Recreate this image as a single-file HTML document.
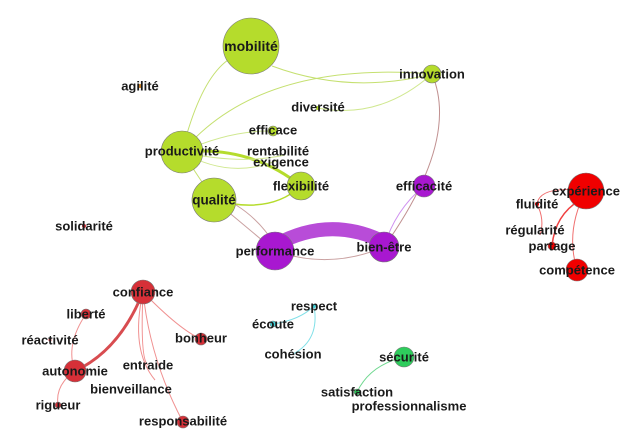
<!DOCTYPE html>
<html><head><meta charset="utf-8"><style>
body{margin:0;background:#fff}
svg text{font-family:"Liberation Sans",sans-serif;font-weight:bold;font-size:13px;fill:#1a1a1a;text-anchor:middle;dominant-baseline:central}
</style></head><body>
<svg width="640" height="443" viewBox="0 0 640 443" xmlns="http://www.w3.org/2000/svg">
<g fill="none">
<path d="M182,152 Q200,80 228,60" stroke="#c5e070" stroke-width="1"/>
<path d="M272,66 Q350,95 432,74" stroke="#c5e070" stroke-width="1"/>
<path d="M182,152 Q260,60 432,74" stroke="#c5e070" stroke-width="1"/>
<path d="M318,108 Q380,120 432,74" stroke="#d0e890" stroke-width="1"/>
<path d="M182,152 Q230,130 273,131" stroke="#d0e890" stroke-width="1"/>
<path d="M182,152 Q250,145 301,186" stroke="#b5dc2c" stroke-width="3"/>
<path d="M182,152 Q230,180 278,160" stroke="#d0e890" stroke-width="1"/>
<path d="M182,152 Q240,165 285,155" stroke="#d0e890" stroke-width="1"/>
<path d="M182,152 L214,200" stroke="#c5e070" stroke-width="1"/>
<path d="M214,200 Q270,215 301,186" stroke="#b5dc2c" stroke-width="1.5"/>
<path d="M214,200 L275,251" stroke="#c9a0a0" stroke-width="1"/>
<path d="M236,205 Q260,220 275,245" stroke="#c9a0a0" stroke-width="1"/>
<path d="M432,74 Q460,140 384,247" stroke="#c09090" stroke-width="1"/>
<path d="M424,186 Q395,210 384,247" stroke="#d090f0" stroke-width="1"/>
<path d="M275,251 Q330,270 384,247" stroke="#c9a0a0" stroke-width="1"/>
<path d="M275,245 Q330,215 384,242" stroke="#b84cd8" stroke-width="14"/>
<path d="M586,191 Q540,185 537,204 Q545,220 540,235" stroke="#f07070" stroke-width="1"/>
<path d="M580,200 Q555,215 552,246" stroke="#f04040" stroke-width="1.5"/>
<path d="M586,191 Q565,230 577,270" stroke="#f07070" stroke-width="1"/>
<path d="M143,292 Q120,350 75,371" stroke="#d84c50" stroke-width="3"/>
<path d="M143,292 Q180,330 201,339" stroke="#f09090" stroke-width="1"/>
<path d="M143,292 Q130,350 155,380" stroke="#f09090" stroke-width="1"/>
<path d="M143,292 Q150,360 183,422" stroke="#f09090" stroke-width="1"/>
<path d="M143,292 Q140,360 148,365" stroke="#f09090" stroke-width="1"/>
<path d="M86,314 Q65,345 75,371" stroke="#f09090" stroke-width="1"/>
<path d="M75,371 Q55,385 58,405" stroke="#f09090" stroke-width="1"/>
<path d="M273,324 Q300,320 314,306 Q320,340 293,354" stroke="#80e0e8" stroke-width="1"/>
<path d="M404,357 Q370,365 357,392" stroke="#70d890" stroke-width="1"/>
</g>
<g stroke="#777" stroke-width="0.6">
<circle cx="251" cy="46" r="28" fill="#b5dc2c"/>
<circle cx="432" cy="74" r="9" fill="#b5dc2c"/>
<circle cx="140" cy="86" r="2" fill="#d08020" stroke="none"/>
<circle cx="318" cy="108" r="2" fill="#b5dc2c" stroke="none"/>
<circle cx="273" cy="131" r="5" fill="#b5dc2c"/>
<circle cx="182" cy="152" r="21" fill="#b5dc2c"/>
<circle cx="301" cy="186" r="14" fill="#b5dc2c"/>
<circle cx="214" cy="200" r="22" fill="#b5dc2c"/>
<circle cx="424" cy="186" r="11" fill="#a818d0"/>
<circle cx="275" cy="251" r="19" fill="#a818d0"/>
<circle cx="384" cy="247" r="15" fill="#a818d0"/>
<circle cx="84" cy="226" r="2" fill="#d63038" stroke="none"/>
<circle cx="586" cy="191" r="18" fill="#f00000"/>
<circle cx="537" cy="204" r="2" fill="#f00000" stroke="none"/>
<circle cx="552" cy="246" r="4" fill="#f00000"/>
<circle cx="577" cy="270" r="11" fill="#f00000"/>
<circle cx="143" cy="292" r="12" fill="#d63038"/>
<circle cx="86" cy="314" r="5" fill="#d63038"/>
<circle cx="50" cy="340" r="1.5" fill="#d63038" stroke="none"/>
<circle cx="201" cy="339" r="6" fill="#d63038"/>
<circle cx="75" cy="371" r="11" fill="#d63038"/>
<circle cx="58" cy="405" r="3" fill="#d63038"/>
<circle cx="183" cy="422" r="6" fill="#d63038"/>
<circle cx="314" cy="306" r="2" fill="#40d0d8" stroke="none"/>
<circle cx="273" cy="324" r="3" fill="#40d0d8"/>
<circle cx="404" cy="357" r="10" fill="#2ecc5c"/>
<circle cx="357" cy="392" r="3" fill="#2ecc5c"/>
</g>
<text x="251" y="46" style="font-size:14px">mobilité</text>
<text x="432" y="74">innovation</text>
<text x="140" y="86">agilité</text>
<text x="318" y="107">diversité</text>
<text x="273" y="130">efficace</text>
<text x="182" y="151">productivité</text>
<text x="278" y="151">rentabilité</text>
<text x="281" y="162">exigence</text>
<text x="301" y="186">flexibilité</text>
<text x="214" y="200" style="font-size:13.5px">qualité</text>
<text x="424" y="186">efficacité</text>
<text x="275" y="251">performance</text>
<text x="384" y="247">bien-être</text>
<text x="84" y="226">solidarité</text>
<text x="586" y="191">expérience</text>
<text x="537" y="204">fluidité</text>
<text x="535" y="230">régularité</text>
<text x="552" y="246">partage</text>
<text x="577" y="270">compétence</text>
<text x="143" y="292">confiance</text>
<text x="86" y="314">liberté</text>
<text x="50" y="340">réactivité</text>
<text x="201" y="338">bonheur</text>
<text x="75" y="371">autonomie</text>
<text x="148" y="365">entraide</text>
<text x="131" y="389">bienveillance</text>
<text x="58" y="405">rigueur</text>
<text x="183" y="421">responsabilité</text>
<text x="314" y="306">respect</text>
<text x="273" y="324">écoute</text>
<text x="293" y="354">cohésion</text>
<text x="404" y="357">sécurité</text>
<text x="357" y="392">satisfaction</text>
<text x="409" y="406">professionnalisme</text>
</svg>
</body></html>
